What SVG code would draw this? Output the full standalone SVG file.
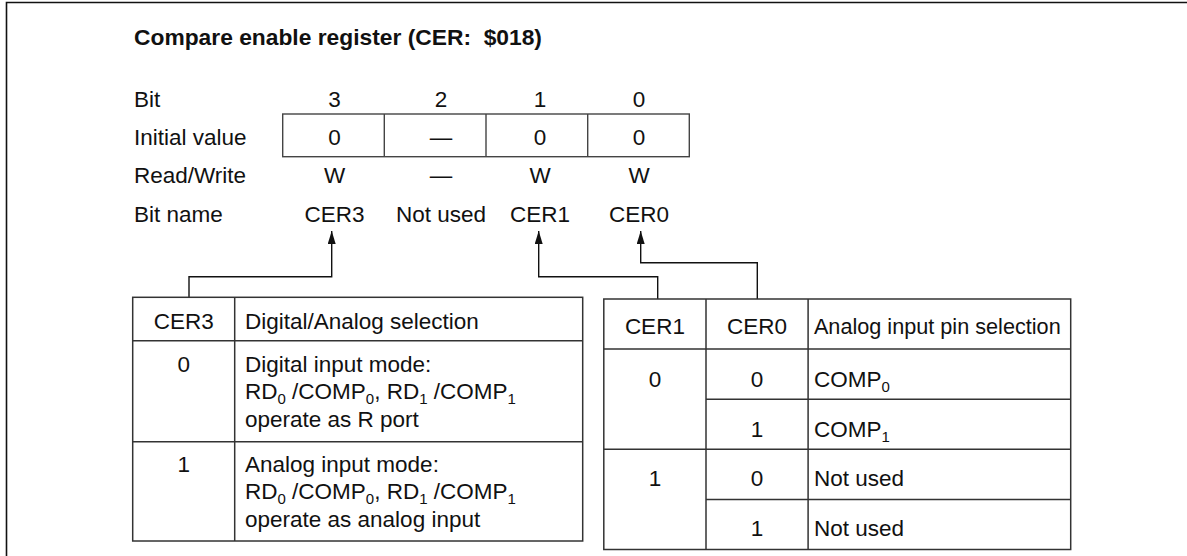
<svg xmlns="http://www.w3.org/2000/svg" width="1187" height="556" viewBox="0 0 1187 556">
<style>
text { font-family: "Liberation Sans", Arial, "Helvetica", sans-serif; font-size: 22.5px; fill: #111; }
.t { font-weight: bold; font-size: 22.8px; white-space: pre; }
.c { text-anchor: middle; }
.s { font-size: 15px; }
.grid { fill: none; stroke: #333; stroke-width: 1.5; }
.reg { fill: none; stroke: #444; stroke-width: 1.4; }
.conn { fill: none; stroke: #111; stroke-width: 1.4; }
.frame { fill: none; stroke: #111; stroke-width: 1.6; }
</style>
<defs>
<marker id="arr" markerUnits="userSpaceOnUse" viewBox="0 0 13 8" markerWidth="13" markerHeight="8" refX="13" refY="4" orient="auto">
<path d="M0,0 L13,4 L0,8 z" fill="#111"/>
</marker>
</defs>
<rect width="1187" height="556" fill="#fff"/>
<path class="frame" d="M6.5,556 V2.5 H1187"/>

<g id="title">
<text class="t" x="134" y="45" xml:space="preserve">Compare enable register (CER:  $018)</text>
</g>

<g id="row-labels">
<text x="134" y="107.3">Bit</text>
<text x="134" y="145">Initial value</text>
<text x="134" y="182.7">Read/Write</text>
<text x="134" y="221.7">Bit name</text>
</g>

<g id="register">
<rect class="reg" x="282.7" y="114" width="406.6" height="42.7"/>
<path class="reg" d="M384.3,114 V156.7 M486,114 V156.7 M587.7,114 V156.7"/>
</g>

<g id="bit3">
<text class="c" x="334.5" y="107.3">3</text>
<text class="c" x="334.5" y="145">0</text>
<text class="c" x="334.5" y="182.7">W</text>
<text class="c" x="334.5" y="221.7">CER3</text>
</g>
<g id="bit2">
<text class="c" x="441" y="107.3">2</text>
<text class="c" x="441" y="145">—</text>
<text class="c" x="441" y="182.7">—</text>
<text class="c" x="441" y="221.7">Not used</text>
</g>
<g id="bit1">
<text class="c" x="540" y="107.3">1</text>
<text class="c" x="540" y="145">0</text>
<text class="c" x="540" y="182.7">W</text>
<text class="c" x="540" y="221.7">CER1</text>
</g>
<g id="bit0">
<text class="c" x="639" y="107.3">0</text>
<text class="c" x="639" y="145">0</text>
<text class="c" x="639" y="182.7">W</text>
<text class="c" x="639" y="221.7">CER0</text>
</g>

<g id="connectors">
<path class="conn" d="M189,297.3 V276.7 H331.7 V231" marker-end="url(#arr)"/>
<path class="conn" d="M657.7,299 V276.7 H538.7 V231" marker-end="url(#arr)"/>
<path class="conn" d="M757.3,299 V262.7 H640.7 V231" marker-end="url(#arr)"/>
</g>

<g id="table-cer3">
<rect class="grid" x="132.7" y="297.3" width="450" height="243.7"/>
<path class="grid" d="M234.7,297.3 V541 M132.7,340.7 H582.7 M132.7,441.7 H582.7"/>
<text class="c" x="183.7" y="329.3">CER3</text>
<text x="245" y="329.3">Digital/Analog selection</text>
<text class="c" x="183.7" y="371.7">0</text>
<text x="245" y="371.7">Digital input mode:</text>
<text x="245" y="399.3">RD<tspan class="s" dy="5">0</tspan><tspan dy="-5"> /COMP</tspan><tspan class="s" dy="5">0</tspan><tspan dy="-5">, RD</tspan><tspan class="s" dy="5">1</tspan><tspan dy="-5"> /COMP</tspan><tspan class="s" dy="5">1</tspan></text>
<text x="245" y="426.7">operate as R port</text>
<text class="c" x="183.7" y="471.7">1</text>
<text x="245" y="471.7">Analog input mode:</text>
<text x="245" y="499.3">RD<tspan class="s" dy="5">0</tspan><tspan dy="-5"> /COMP</tspan><tspan class="s" dy="5">0</tspan><tspan dy="-5">, RD</tspan><tspan class="s" dy="5">1</tspan><tspan dy="-5"> /COMP</tspan><tspan class="s" dy="5">1</tspan></text>
<text x="245" y="526.7">operate as analog input</text>
</g>

<g id="table-cer1-cer0">
<rect class="grid" x="603.8" y="299" width="466.9" height="250.5"/>
<path class="grid" d="M706,299 V549.5 M808.1,299 V549.5 M603.8,349.1 H1070.7 M706,399.2 H1070.7 M603.8,449.3 H1070.7 M706,499.4 H1070.7"/>
<text class="c" x="654.9" y="334.3">CER1</text>
<text class="c" x="757" y="334.3">CER0</text>
<text x="813.9" y="334.3" textLength="246.8" lengthAdjust="spacingAndGlyphs">Analog input pin selection</text>
<text class="c" x="654.9" y="386.7">0</text>
<text class="c" x="757" y="386.7">0</text>
<text x="813.9" y="386.7">COMP<tspan class="s" dy="5">0</tspan></text>
<text class="c" x="757" y="436.5">1</text>
<text x="813.9" y="436.5">COMP<tspan class="s" dy="5">1</tspan></text>
<text class="c" x="654.9" y="486.2">1</text>
<text class="c" x="757" y="486.2">0</text>
<text x="813.9" y="486.2">Not used</text>
<text class="c" x="757" y="536">1</text>
<text x="813.9" y="536">Not used</text>
</g>
</svg>
